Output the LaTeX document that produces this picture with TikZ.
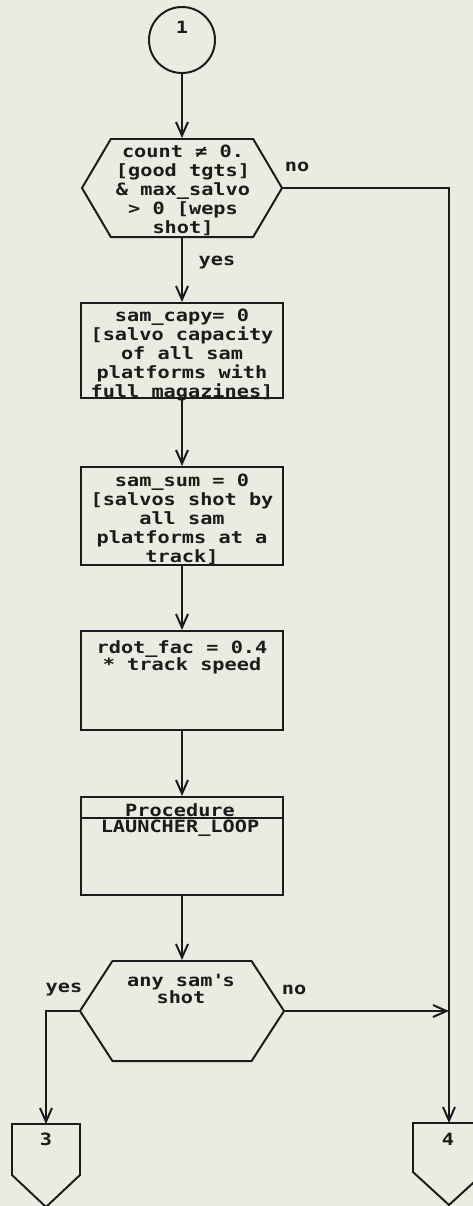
\documentclass[tikz,border=0pt]{standalone}
\usepackage{fontspec}
\usepackage{tikz}
\usetikzlibrary{arrows.meta,shapes.symbols}
\newfontfamily\plotfont[FakeStretch=1.2]{DejaVu Sans Mono}
\definecolor{paper}{RGB}{236,235,225}
\definecolor{ink}{RGB}{28,26,26}

\begin{document}
\begin{tikzpicture}[x=0.025cm,y=-0.025cm,>={Straight Barb[length=3.4mm,width=3mm]},
  every node/.style={font=\plotfont\bfseries\fontsize{12}{13.5}\selectfont,text=ink},
  flow/.style={draw=ink,line width=1.4pt},
  box/.style={flow,rectangle,minimum width=5.05cm,inner sep=0pt},
  hexa/.style={flow,signal,signal to=east and west,inner sep=0pt},
  txt/.style={align=center,inner sep=0pt}]
  \path[use as bounding box,fill=paper] (0,0) rectangle (473,1206);
  \node[flow,circle,minimum size=1.65cm] (start) at (182,40) {};
  \node[hexa,signal pointer angle=119,minimum width=5cm,minimum height=2.45cm] (hexA) at (182,188) {};
  \node[box,minimum height=2.375cm] (capy) at (182,350.5) {};
  \node[box,minimum height=2.45cm] (ssum) at (182,516) {};
  \node[box,minimum height=2.475cm] (rdot) at (182,680.5) {};
  \node[box,minimum height=2.45cm] (proc) at (182,846) {};
  \node[hexa,signal pointer angle=114,minimum width=5.1cm,minimum height=2.5cm] (hexB) at (182,1011) {};
  \coordinate (off3) at (46,1124);
  \coordinate (off4) at (449,1123);
  \node[txt] (startlbl) at (182,27) {1};
  \node[txt] (hexAlbl) at (183,190) {count ≠ 0.\\{}[good tgts]\\\& max\_salvo\\> 0 [weps\\shot]};
  \node[txt] (capylbl) at (182,355) {sam\_capy= 0\\{}[salvo capacity\\of all sam\\platforms with\\full magazines]};
  \node[txt] (ssumlbl) at (182,519) {sam\_sum = 0\\{}[salvos shot by\\all sam\\platforms at a\\track]};
  \node[txt] (rdotlbl) at (182,657) {rdot\_fac = 0.4\\[-1.5pt]* track speed};
  \node[txt] (proclbl) at (180,820) {Procedure\\[-2.5pt]LAUNCHER\_LOOP};
  \node[txt] (hexBlbl) at (181,989) {any sam\textquotesingle s\\[-1pt]shot};
  \node[txt] (noA) at (297,167) {no};
  \node[txt] (yesA) at (217,263) {yes};
  \node[txt] (yesB) at (64,990) {yes};
  \node[txt] (noB) at (294,990) {no};
  \node[txt] (off3lbl) at (46,1139) {3};
  \node[txt] (off4lbl) at (448,1139) {4};
  \draw[flow] ([yshift=-0.55cm]proc.north west) -- ([yshift=-0.55cm]proc.north east);
  \draw[flow] (off3) ++(-34,0) -- ++(68,0) -- ++(0,51) -- ++(-34,32) -- ++(-34,-32) -- cycle;
  \draw[flow] (off4) ++(-36,0) -- ++(72,0) -- ++(0,49) -- ++(-36,33) -- ++(-36,-33) -- cycle;
  \draw[flow,->] (start.south) -- (hexA.north);
  \draw[flow,->] (hexA.south) -- (capy.north);
  \draw[flow,->] (capy.south) -- (ssum.north);
  \draw[flow,->] (ssum.south) -- (rdot.north);
  \draw[flow,->] (rdot.south) -- (proc.north);
  \draw[flow,->] (proc.south) -- (hexB.north);
  \draw[flow,->] (hexA.east) -| (off4);
  \draw[flow,->] (hexB.east) -- (hexB.east -| off4);
  \draw[flow,->] (hexB.west) -| (off3);
\end{tikzpicture}
\end{document}
